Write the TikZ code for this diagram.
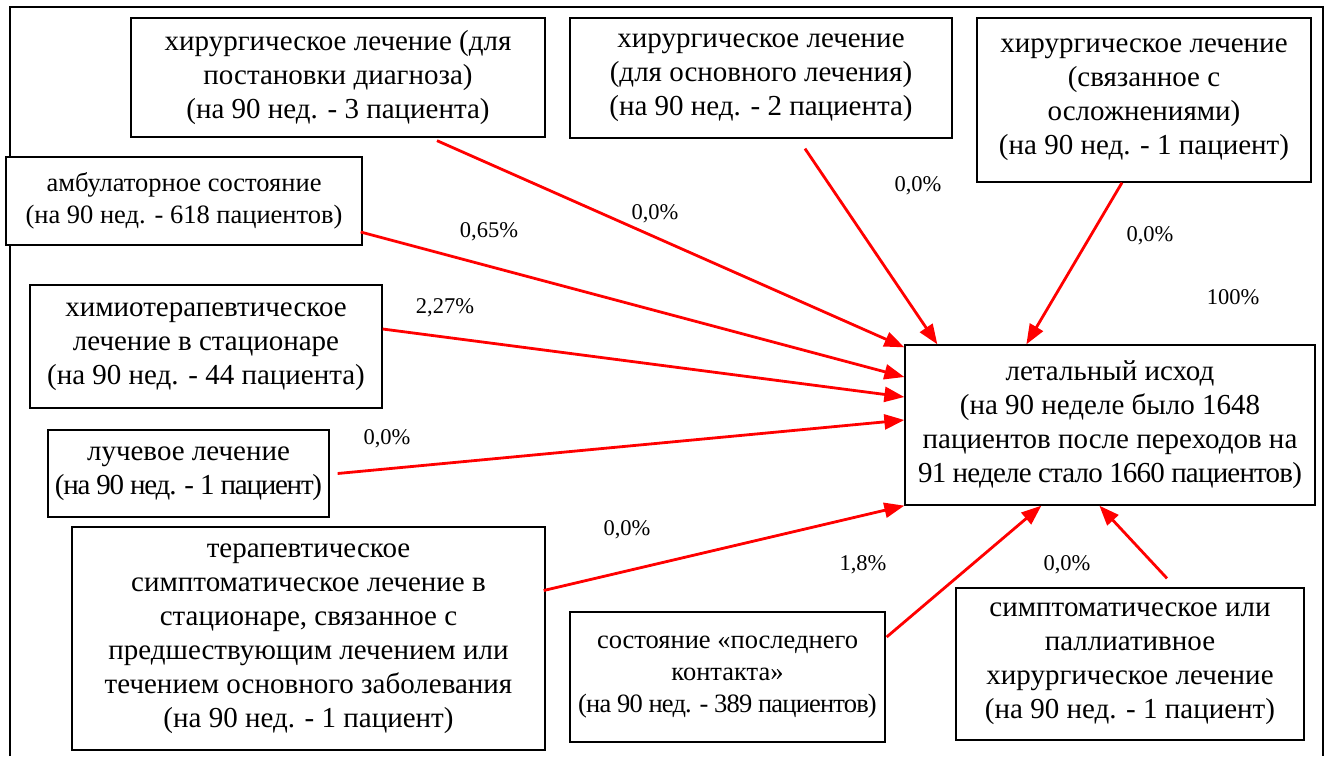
\documentclass[tikz,border=0pt]{standalone}
\usepackage{fontspec}
\setmainfont{Liberation Serif}
\usetikzlibrary{arrows.meta,calc}
\newcommand\BigTxt{\fontsize{29}{34}\selectfont}
\newcommand\SmallTxt{\fontsize{26.5}{32}\selectfont}
\newcommand\LabTxt{\fontsize{22.5}{26}\selectfont}
\newcommand\Cond[2]{{\addfontfeatures{LetterSpace=#1}#2}}
\begin{document}
\begin{tikzpicture}[x=1pt,y=-1pt,
  box/.style={draw=black,line width=1.3pt,fill=white,inner sep=0pt,align=center,font=\BigTxt},
  sbox/.style={box,font=\SmallTxt},
  lab/.style={inner sep=0pt,font=\LabTxt},
  link/.style={draw=red,line width=2.8pt,-{Triangle[length=20pt,width=15pt]}}]
\useasboundingbox (0,0) rectangle (1331,756);
% outer frame (bottom side lies outside the picture)
\draw[line width=2pt] (10,756) -- (10,7) -- (1323,7) -- (1323,756);

% boxes
\node[box,minimum width=414pt,minimum height=119pt] (b1) at (338,77.5)
  {хирургическое лечение (для\\постановки диагноза)\\(на 90 нед. - 3 пациента)};
\node[box,minimum width=382pt,minimum height=120pt] (b2) at (761,78)
  {хирургическое лечение\\(для основного лечения)\\(на 90 нед. - 2 пациента)};
\node[box,minimum width=334pt,minimum height=164pt] (b3) at (1144,100)
  {хирургическое лечение\\(связанное с\\осложнениями)\\(на 90 нед. - 1 пациент)};
\node[sbox,minimum width=356pt,minimum height=88pt] (amb) at (184,201)
  {амбулаторное состояние\\(на 90 нед. - 618 пациентов)};
\node[box,minimum width=352pt,minimum height=123pt] (chemo) at (206,346.5)
  {химиотерапевтическое\\лечение в стационаре\\(на 90 нед. - 44 пациента)};
\node[box,minimum width=281pt,minimum height=87pt] (rad) at (188.5,473.5)
  {лучевое лечение\\\Cond{-4.3}{(на 90 нед. - 1 пациент)}};
\node[box,minimum width=473pt,minimum height=223pt] (ther) at (308.5,638.5)
  {терапевтическое\\симптоматическое лечение в\\стационаре, связанное с\\предшествующим лечением или\\течением основного заболевания\\(на 90 нед. - 1 пациент)};
\node[sbox,minimum width=315pt,minimum height=130pt] (lc) at (727.5,677)
  {состояние «последнего\\контакта»\\\Cond{-3.1}{(на 90 нед. - 389 пациентов)}};
\node[box,minimum width=348pt,minimum height=152pt] (pal) at (1130,664)
  {симптоматическое или\\паллиативное\\хирургическое лечение\\(на 90 нед. - 1 пациент)};
\node[box,minimum width=410pt,minimum height=160pt] (dead) at (1110,425)
  {летальный исход\\(на 90 неделе было 1648\\пациентов после переходов на\\\Cond{-2.8}{91 неделе стало 1660 пациентов)}};

% connectors
\draw[link] ([xshift=99pt,yshift=-3pt]b1.south) -- ([yshift=-3pt]dead.north west);
\draw[link] ([xshift=44pt,yshift=-10pt]b2.south) -- ([xshift=33pt]dead.north west);
\draw[link] ([xshift=-22pt]b3.south) -- ([xshift=122pt]dead.north west);
\draw[link] ([xshift=-2pt,yshift=-31pt]amb.east) -- ([yshift=48pt]dead.west);
\draw[link] ([yshift=17.5pt]chemo.east) -- ([yshift=28pt]dead.west);
\draw[link] ([xshift=8pt]rad.east) -- ([yshift=5pt]dead.west);
\draw[link] ([xshift=-2pt,yshift=48pt]ther.east) -- (dead.south west);
\draw[link] ([xshift=1pt,yshift=40pt]lc.east) -- ([xshift=137pt]dead.south west);
\draw[link] ([xshift=37pt,yshift=9pt]pal.north) -- ([xshift=195pt]dead.south west);

% percentages
\node[lab] (l1) at (655,214) {0,0\%};
\node[lab] (l2) at (918,186) {0,0\%};
\node[lab] (l3) at (1150,236) {0,0\%};
\node[lab] (l4) at (1233,297) {100\%};
\node[lab] (l5) at (489,232) {0,65\%};
\node[lab] (l6) at (445,308) {2,27\%};
\node[lab] (l7) at (387,439) {0,0\%};
\node[lab] (l8) at (627,530) {0,0\%};
\node[lab] (l9) at (863,565) {1,8\%};
\node[lab] (l10) at (1067,565) {0,0\%};
\end{tikzpicture}
\end{document}
